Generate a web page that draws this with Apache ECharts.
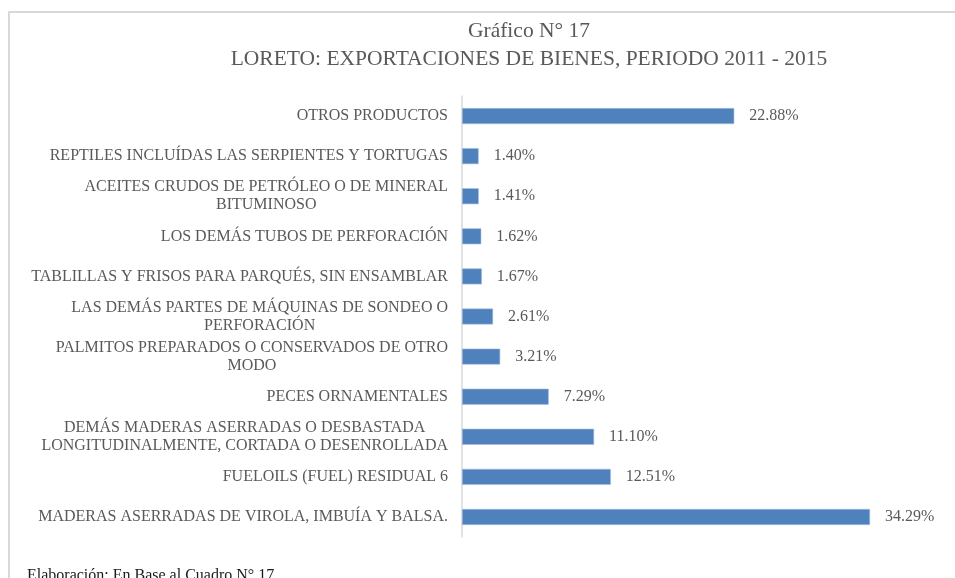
<!DOCTYPE html>
<html>
<head>
<meta charset="utf-8">
<script src="https://cdn.jsdelivr.net/npm/echarts@6/dist/echarts.min.js"></script>
<style>
  html, body { margin: 0; padding: 0; background: #fff; }
  #frame {
    position: absolute; left: 8px; top: 11px; width: 1000px; height: 620px;
    border-left: 2px solid #d9d9d9; border-top: 2px solid #d9d9d9;
  }
  #chart { position: absolute; left: 0; top: 0; width: 955px; height: 578px; }
</style>
</head>
<body>
<div id="frame"></div>
<div id="chart"></div>
<script>
// top to bottom, as in the picture
const categories = [
  'OTROS PRODUCTOS',
  'REPTILES INCLUÍDAS LAS SERPIENTES Y TORTUGAS',
  'ACEITES CRUDOS DE PETRÓLEO O DE MINERAL\nBITUMINOSO',
  'LOS DEMÁS TUBOS DE PERFORACIÓN',
  'TABLILLAS Y FRISOS PARA PARQUÉS, SIN ENSAMBLAR',
  'LAS DEMÁS PARTES DE MÁQUINAS DE SONDEO O\nPERFORACIÓN',
  'PALMITOS PREPARADOS O CONSERVADOS DE OTRO\nMODO',
  'PECES ORNAMENTALES',
  'DEMÁS MADERAS ASERRADAS O DESBASTADA\nLONGITUDINALMENTE, CORTADA O DESENROLLADA',
  'FUELOILS (FUEL) RESIDUAL 6',
  'MADERAS ASERRADAS DE VIROLA, IMBUÍA Y BALSA.'
];
const shares = [22.88, 1.40, 1.41, 1.62, 1.67, 2.61, 3.21, 7.29, 11.10, 12.51, 34.29];

const font = '"Liberation Serif", "Times New Roman", serif';
const labelSize = 16;
const grey = '#595959';

// wrapped labels: centre the lines inside the block (Excel style)
const ctx = document.createElement('canvas').getContext('2d');
ctx.font = labelSize + 'px ' + font;
const rich = {};
const labelText = {};
categories.forEach((cat, i) => {
  const lines = cat.split('\n');
  const widths = lines.map(s => ctx.measureText(s).width);
  const maxW = Math.max(...widths);
  labelText[cat] = lines.map((s, j) => {
    const key = 'l' + i + '_' + j;
    rich[key] = {
      align: 'right', fontFamily: font, fontSize: labelSize, color: grey, lineHeight: 18,
      padding: [0, (maxW - widths[j]) / 2, 0, 0]
    };
    return '{' + key + '|' + s + '}';
  }).join('\n');
});

const chart = echarts.init(document.getElementById('chart'));

chart.setOption({
  animation: false,
  textStyle: { fontFamily: font },
  title: [
    {
      text: 'Gráfico N° 17',
      left: 524, top: 15, textAlign: 'center',
      textStyle: { fontFamily: font, fontSize: 21.5, fontWeight: 'normal', color: grey }
    },
    {
      text: 'LORETO: EXPORTACIONES DE BIENES, PERIODO 2011 - 2015',
      left: 524, top: 43, textAlign: 'center',
      textStyle: { fontFamily: font, fontSize: 21.5, fontWeight: 'normal', color: grey }
    },
    {
      text: 'Elaboración: En Base al Cuadro N° 17.',
      left: 22, top: 563,
      textStyle: { fontFamily: font, fontSize: 16, fontWeight: 'normal', color: '#1a1a1a' }
    }
  ],
  grid: { left: 462, top: 96, width: 476, height: 441 },
  xAxis: {
    type: 'value', min: 0, max: 40, show: false
  },
  yAxis: {
    type: 'category',
    data: categories,
    inverse: true,
    axisLine: { show: true, lineStyle: { color: '#d9d9d9', width: 1.5 } },
    axisTick: { show: false },
    axisLabel: {
      margin: 14,
      fontFamily: font,
      fontSize: labelSize,
      color: grey,
      lineHeight: 18,
      formatter: v => labelText[v],
      rich: rich
    }
  },
  series: [{
    type: 'bar',
    data: shares,
    barWidth: 16,
    itemStyle: { color: '#4f81bd', borderColor: '#a7c0de', borderWidth: 0.6 },
    label: {
      show: true,
      position: 'right',
      distance: 15,
      fontFamily: font,
      fontSize: 16,
      color: grey,
      formatter: p => p.value.toFixed(2) + '%'
    }
  }]
});
</script>
</body>
</html>
